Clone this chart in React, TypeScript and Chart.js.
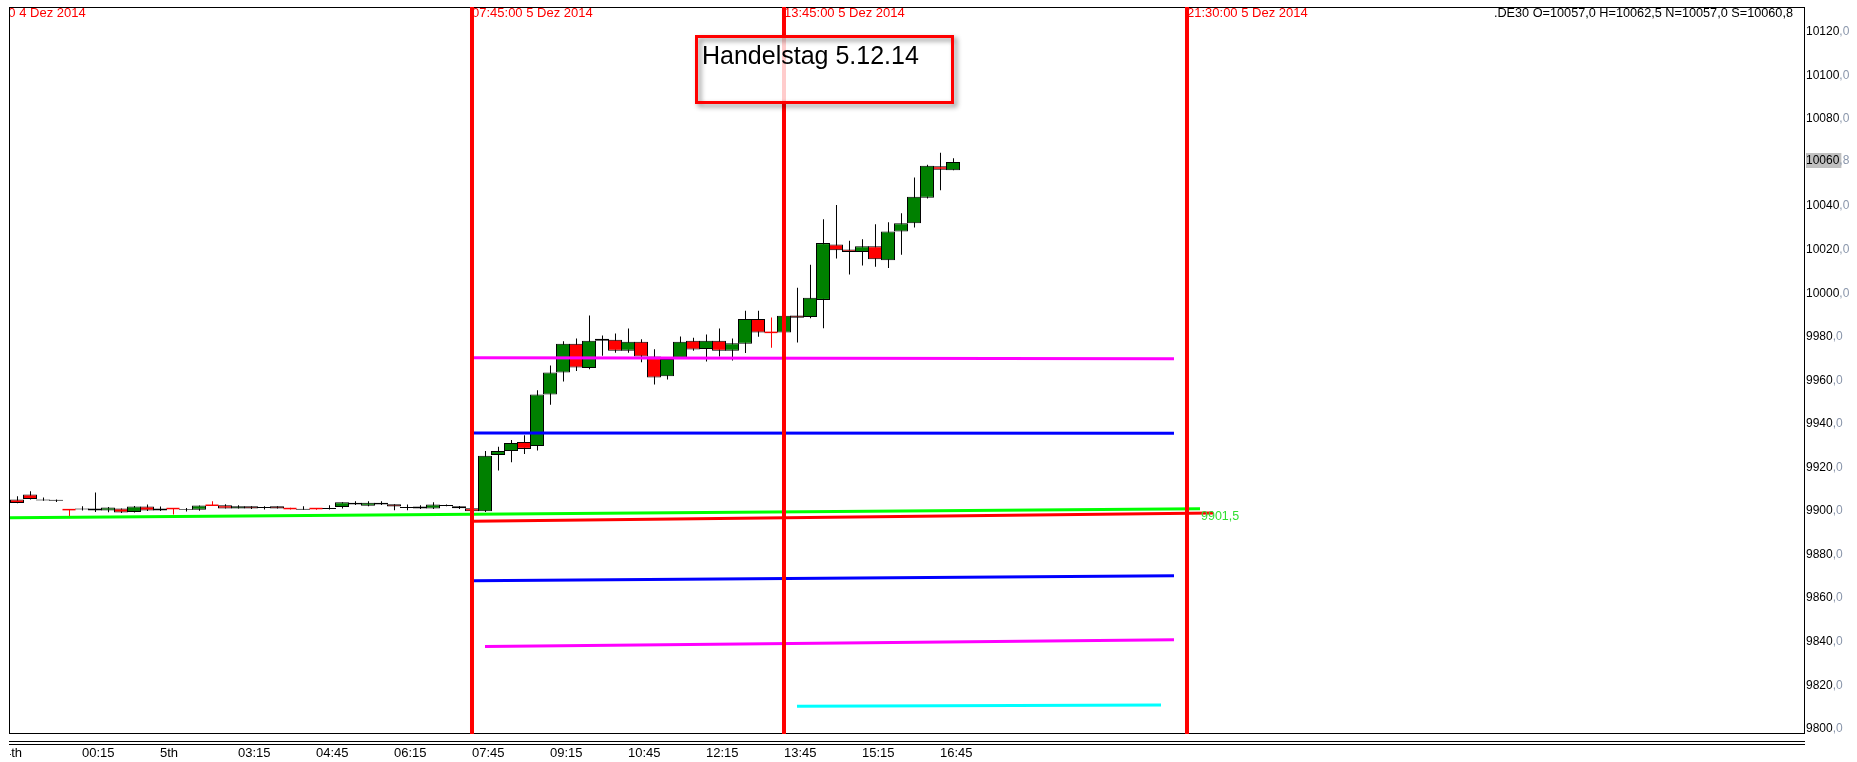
import React, { useEffect, useRef } from 'react';
import { Chart, registerables } from 'chart.js';

Chart.register(...registerables);

// ---- data ----
const barTimes = [
  '23:00','23:15','23:30','23:45','00:00','00:15','00:30','00:45','01:00','01:15','01:30','01:45',
  '02:00','02:15','02:30','02:45','03:00','03:15','03:30','03:45','04:00','04:15','04:30','04:45',
  '05:00','05:15','05:30','05:45','06:00','06:15','06:30','06:45','07:00','07:15','07:30','07:45',
  '08:00','08:15','08:30','08:45','09:00','09:15','09:30','09:45','10:00','10:15','10:30','10:45',
  '11:00','11:15','11:30','11:45','12:00','12:15','12:30','12:45','13:00','13:15','13:30','13:45',
  '14:00','14:15','14:30','14:45','15:00','15:15','15:30','15:45','16:00','16:15','16:30','16:45','17:00'
];

const opens = [
  9905.7, 9908.0, 9905.8, 9905.6, 9901.1, 9901.2, 9901.6, 9900.7, 9901.6, 9900.0, 9902.5, 9900.7,
  9901.6, 9901.4, 9901.0, 9903.1, 9903.1, 9901.6, 9902.6, 9902.3, 9902.6, 9901.6, 9901.5, 9901.6,
  9901.4, 9902.3, 9904.3, 9902.9, 9904.3, 9903.6, 9902.3, 9902.5, 9901.6, 9902.8, 9902.6, 9901.7,
  9900.3, 9926.2, 9928.0, 9932.2, 9930.3, 9954.0, 9964.1, 9977.3, 9966.2, 9978.7, 9979.1, 9974.1,
  9978.2, 9971.4, 9962.3, 9970.7, 9978.7, 9974.9, 9978.7, 9974.1, 9977.3, 9988.7, 9982.5, 9982.5,
  9990.2, 9989.6, 9997.4, 10022.9, 10020.6, 10019.4, 10022.0, 10015.6, 10028.8, 10032.6, 10044.3, 10058.8, 10057.0
];
const highs = [
  9907.2, 9909.5, 9906.7, 9905.7, 9901.1, 9902.6, 9909.0, 9902.3, 9901.6, 9902.8, 9903.4, 9902.5,
  9901.6, 9901.9, 9903.0, 9904.9, 9903.6, 9903.1, 9902.6, 9902.6, 9902.6, 9902.0, 9902.6, 9901.8,
  9903.1, 9904.5, 9905.0, 9905.0, 9905.0, 9903.6, 9903.4, 9903.1, 9904.5, 9903.4, 9902.8, 9901.9,
  9928.0, 9930.0, 9933.1, 9935.3, 9955.9, 9967.3, 9978.4, 9979.7, 9990.2, 9981.1, 9982.0, 9984.3,
  9979.3, 9974.8, 9970.5, 9980.6, 9980.0, 9981.5, 9984.3, 9979.7, 9992.4, 9992.4, 9989.3, 9990.3,
  10003.0, 10013.6, 10034.5, 10041.0, 10024.6, 10025.3, 10032.2, 10033.1, 10037.2, 10053.6, 10059.5, 10065.0, 10062.5
];
const lows = [
  9904.0, 9905.8, 9905.2, 9904.6, 9898.1, 9900.7, 9900.0, 9899.9, 9899.5, 9899.8, 9900.5, 9900.5,
  9898.9, 9900.2, 9900.6, 9903.1, 9901.6, 9901.6, 9901.4, 9901.2, 9901.6, 9901.2, 9901.0, 9901.0,
  9901.2, 9901.6, 9903.2, 9902.7, 9903.2, 9900.8, 9900.8, 9901.4, 9901.4, 9902.6, 9901.4, 9899.8,
  9900.0, 9919.1, 9922.9, 9926.7, 9928.3, 9949.3, 9960.0, 9964.8, 9965.6, 9971.8, 9973.2, 9973.2,
  9968.8, 9958.6, 9960.9, 9970.5, 9974.1, 9969.1, 9971.4, 9969.6, 9973.0, 9980.5, 9975.5, 9982.3,
  9977.9, 9989.0, 9984.4, 10016.4, 10009.1, 10013.2, 10012.6, 10012.1, 10018.2, 10030.7, 10044.0, 10047.8, 10057.0
];
const closes = [
  9904.2, 9906.0, 9905.3, 9905.2, 9901.1, 9901.6, 9900.7, 9902.1, 9899.8, 9902.5, 9900.7, 9901.6,
  9901.6, 9901.0, 9903.0, 9903.1, 9901.6, 9902.6, 9901.6, 9901.9, 9901.6, 9901.6, 9901.1, 9901.6,
  9901.8, 9904.5, 9903.4, 9904.3, 9903.4, 9902.5, 9901.9, 9901.6, 9903.4, 9903.2, 9901.7, 9900.3,
  9925.8, 9928.0, 9931.7, 9929.0, 9954.0, 9964.1, 9977.3, 9966.4, 9978.7, 9979.6, 9974.1, 9978.2,
  9971.4, 9961.8, 9970.3, 9978.2, 9974.6, 9978.7, 9974.1, 9977.5, 9988.7, 9982.5, 9982.5, 9990.1,
  9989.2, 9998.4, 10023.5, 10020.2, 10019.4, 10022.0, 10016.1, 10028.8, 10032.6, 10044.8, 10059.0, 10057.2, 10060.8
];

// time axis ticks (bar index positions) and their labels
const tickBars = [-1, 5, 11, 17, 23, 29, 35, 41, 47, 53, 59, 65, 71];
const tickLabels = ['4th', '00:15', '5th', '03:15', '04:45', '06:15', '07:45', '09:15', '10:45', '12:15', '13:45', '15:15', '16:45'];

// price axis ticks
const priceTicks = [9800, 9820, 9840, 9860, 9880, 9900, 9920, 9940, 9960, 9980, 10000, 10020, 10040, 10060, 10080, 10100, 10120];
const lastPrice = 10060.8;

// vertical time markers
const markerBars = [-4, 35, 59, 90];
const markerLabels = ['22:00:00 4 Dez 2014', '07:45:00 5 Dez 2014', '13:45:00 5 Dez 2014', '21:30:00 5 Dez 2014'];

// horizontal level lines: magenta, blue, green, red, blue, magenta, cyan
const levelStartBar = [35, 35, -1, 35, 35, 36, 60];
const levelEndBar = [89, 89, 91, 92, 89, 89, 88];
const levelStartValue = [9970.9, 9936.3, 9897.4, 9895.8, 9868.4, 9838.2, 9810.8];
const levelEndValue = [9970.4, 9936.2, 9901.5, 9899.6, 9870.7, 9841.4, 9811.4];
const greenLevelLabel = '9901,5';

const infoText = '.DE30 O=10057,0 H=10062,5 N=10057,0 S=10060,8';
const noteText = 'Handelstag 5.12.14';

// ---- styles ----
const FONT = '"Liberation Sans", Arial, sans-serif';
const GREEN = '#008000';
const RED = '#ff0000';
const levelColors = ['#ff00ff', '#0000ff', '#00ff00', '#ff0000', '#0000ff', '#ff00ff', '#00ffff'];

const X_MIN = -0.538;
const X_MAX = X_MIN + 138;
const Y_MIN = 9798.52;
const Y_MAX = 10131.47;

function fmt(v: number) {
  const s = v.toFixed(1);
  const [a, b] = s.split('.');
  return [a, ',' + b];
}

const decor = {
  id: 'decor',
  beforeDraw(chart: any) {
    const { ctx, width, height } = chart;
    ctx.save();
    ctx.fillStyle = '#fff';
    ctx.fillRect(0, 0, width, height);
    ctx.restore();
  },
  beforeDatasetsDraw(chart: any) {
    const { ctx, chartArea: a, scales } = chart;
    const x = scales.x;
    ctx.save();
    // frame
    ctx.strokeStyle = '#000';
    ctx.lineWidth = 1;
    ctx.strokeRect(a.left - 0.5, a.top - 0.5, a.right - a.left + 1, a.bottom - a.top + 1);
    // marker labels
    ctx.beginPath();
    ctx.rect(a.left, 0, a.right - a.left, a.bottom);
    ctx.clip();
    ctx.fillStyle = RED;
    ctx.font = '13px ' + FONT;
    ctx.textAlign = 'left';
    ctx.textBaseline = 'alphabetic';
    markerBars.forEach((b, j) => {
      ctx.fillText(markerLabels[j], x.getPixelForValue(b), 17);
    });
    ctx.restore();
  },
  afterDatasetsDraw(chart: any) {
    const { ctx, chartArea: a, scales } = chart;
    const x = scales.x;
    const y = scales.y;
    ctx.save();
    // green level label
    ctx.fillStyle = '#2fdf2f';
    ctx.font = '12.5px ' + FONT;
    ctx.textAlign = 'left';
    ctx.textBaseline = 'middle';
    ctx.fillText(greenLevelLabel, x.getPixelForValue(levelEndBar[2]) + 1, y.getPixelForValue(levelEndValue[2]) + 8);

    // note box
    const bx = 695, by = 35, bw = 259, bh = 69;
    ctx.fillStyle = 'rgba(255,255,255,0.8)';
    ctx.fillRect(bx, by, bw, bh);
    ctx.save();
    ctx.shadowColor = 'rgba(0,0,0,0.45)';
    ctx.shadowBlur = 5;
    ctx.shadowOffsetX = 3;
    ctx.shadowOffsetY = 3;
    ctx.strokeStyle = RED;
    ctx.lineWidth = 3;
    ctx.strokeRect(bx + 1.5, by + 1.5, bw - 3, bh - 3);
    ctx.restore();
    ctx.fillStyle = '#000';
    ctx.font = '25px ' + FONT;
    ctx.textBaseline = 'alphabetic';
    ctx.fillText(noteText, bx + 7, by + 29);

    // info text
    ctx.font = '12.7px ' + FONT;
    ctx.textAlign = 'right';
    ctx.fillText(infoText, a.right - 11, 17);
    ctx.restore();
  },
  afterDraw(chart: any) {
    const { ctx, chartArea: a, scales, width } = chart;
    const x = scales.x;
    const y = scales.y;
    ctx.save();
    // double lines under plot
    ctx.strokeStyle = '#000';
    ctx.lineWidth = 1;
    [741.5, 744.5].forEach((yy) => {
      ctx.beginPath();
      ctx.moveTo(a.left - 1, yy);
      ctx.lineTo(a.right + 1, yy);
      ctx.stroke();
    });

    // price labels
    ctx.font = '12px ' + FONT;
    ctx.textAlign = 'left';
    ctx.textBaseline = 'middle';
    const lx = a.right + 2;
    const drawPrice = (v: number, highlight: boolean) => {
      const [ip, dp] = fmt(v);
      const py = y.getPixelForValue(v) - 1;
      const w = ctx.measureText(ip).width;
      if (highlight) {
        ctx.fillStyle = '#c0c0c0';
        ctx.fillRect(lx, Math.round(py - 7.5), w + 2, 15);
      }
      ctx.fillStyle = '#000';
      ctx.fillText(ip, lx, py);
      ctx.fillStyle = '#8a96ab';
      ctx.fillText(dp, lx + w, py);
    };
    priceTicks.forEach((v) => {
      if (Math.abs(y.getPixelForValue(v) - y.getPixelForValue(lastPrice)) < 14) return;
      drawPrice(v, false);
    });
    drawPrice(lastPrice, true);

    // time labels
    ctx.save();
    ctx.beginPath();
    ctx.rect(a.left, a.bottom, width - a.left, 40);
    ctx.clip();
    ctx.fillStyle = '#000';
    ctx.font = '13px ' + FONT;
    ctx.textBaseline = 'alphabetic';
    tickBars.forEach((b, j) => {
      ctx.fillText(tickLabels[j], x.getPixelForValue(b), 757);
    });
    ctx.restore();
    ctx.restore();
  },
};

export default function App() {
  const ref = useRef<HTMLCanvasElement>(null);
  useEffect(() => {
    if (!ref.current) return;
    const idx = barTimes.map((_, i) => i);
    const bodyPts: any[] = [];
    const bodyColors: string[] = [];
    idx.forEach((i) => {
      if (opens[i] !== closes[i]) {
        bodyPts.push({ x: i, y: [opens[i], closes[i]] });
        bodyColors.push(closes[i] > opens[i] ? GREEN : RED);
      }
    });
    const wickPts = idx.map((i) => ({ x: i, y: [lows[i], highs[i]] }));
    const wickColors = idx.map((i) => (opens[i] === closes[i] ? RED : '#000'));
    const crossPts = idx.filter((i) => opens[i] === closes[i]).map((i) => ({ x: i, y: closes[i] }));

    const markerSets = markerBars.map((b) => ({
      type: 'line',
      data: [{ x: b, y: Y_MIN - 20 }, { x: b, y: Y_MAX + 20 }],
      borderColor: RED,
      borderWidth: 4,
      pointRadius: 0,
      order: 0,
      clip: { left: 0, right: 0, top: 1, bottom: 1 },
    }));
    const levelSets = levelStartBar.map((s, j) => ({
      type: 'line',
      data: [{ x: s, y: levelStartValue[j] }, { x: levelEndBar[j], y: levelEndValue[j] }],
      borderColor: levelColors[j],
      borderWidth: 3,
      pointRadius: 0,
      order: 1,
    }));

    const chart = new Chart(ref.current, {
      type: 'bar',
      data: {
        datasets: [
          ...markerSets,
          ...levelSets,
          {
            type: 'scatter',
            data: crossPts,
            pointStyle: 'line',
            pointRadius: 6.5,
            pointBorderWidth: 1.5,
            pointBorderColor: RED,
            pointBackgroundColor: RED,
            order: 2,
          },
          {
            type: 'bar',
            data: bodyPts,
            backgroundColor: bodyColors,
            borderColor: '#000',
            borderWidth: 1,
            borderSkipped: false,
            barThickness: 14,
            grouped: false,
            inflateAmount: 0,
            order: 3,
          },
          {
            type: 'bar',
            xAxisID: 'x2',
            data: wickPts,
            backgroundColor: wickColors,
            borderWidth: 0,
            barThickness: 1,
            grouped: false,
            inflateAmount: 0,
            order: 4,
          },
        ] as any,
      },
      options: {
        animation: false,
        responsive: false,
        maintainAspectRatio: false,
        devicePixelRatio: 1,
        events: [],
        layout: { padding: { left: 10, right: 53, top: 3, bottom: 29 } },
        plugins: { legend: { display: false }, tooltip: { enabled: false } },
        scales: {
          x: { type: 'linear', min: X_MIN, max: X_MAX, display: false, offset: false, grid: { offset: false } },
          x2: { type: 'linear', min: X_MIN - 0.5 / 13, max: X_MAX - 0.5 / 13, display: false, offset: false, grid: { offset: false } },
          y: { type: 'linear', min: Y_MIN, max: Y_MAX, display: false },
        },
      } as any,
      plugins: [decor],
    });
    return () => chart.destroy();
  }, []);

  return (
    <div style={{ position: 'fixed', left: 0, top: 0, width: 1857, height: 762, background: '#fff' }}>
      <canvas ref={ref} width={1857} height={762} style={{ display: 'block', width: 1857, height: 762 }} />
    </div>
  );
}
